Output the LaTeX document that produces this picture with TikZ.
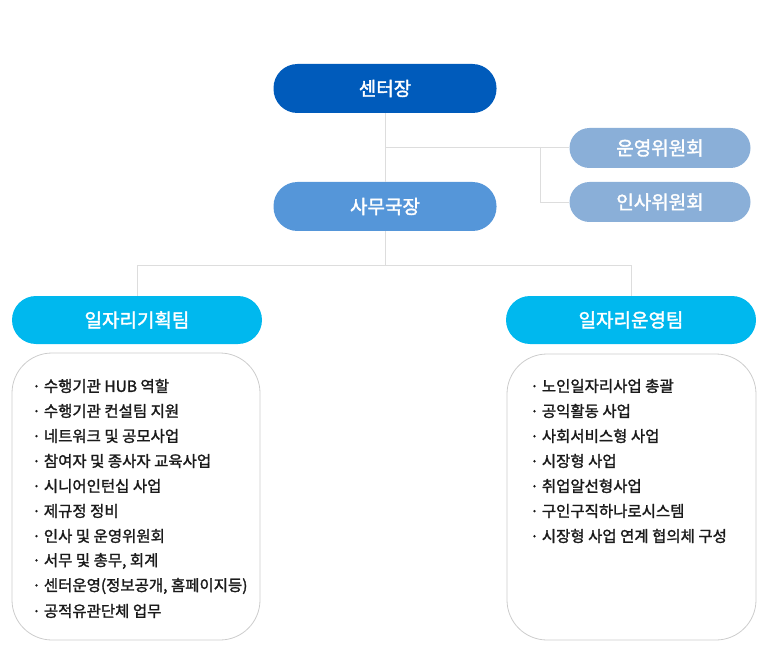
\documentclass[tikz,border=0pt]{standalone}
\usepackage{fontspec}
\setmainfont{Noto Sans CJK KR}
\newfontfamily\medfont{Noto Sans CJK KR}[FakeBold=1.6]
\newfontfamily\headfont{Noto Sans CJK KR}[FakeBold=1.8]
\usetikzlibrary{positioning}
\definecolor{chiefblue}{HTML}{005BBB}
\definecolor{officeblue}{HTML}{5596D9}
\definecolor{comblue}{HTML}{8AAFD8}
\definecolor{teamblue}{HTML}{00B8EE}
\definecolor{linegray}{HTML}{DDDDDD}
\definecolor{boxgray}{HTML}{CCCCCC}
\definecolor{itemtext}{HTML}{1A1A1A}

\begin{document}
\begin{tikzpicture}[x=1pt,y=-1pt,
 pill/.style={rounded corners=24pt,minimum width=223pt,minimum height=49pt,inner sep=0pt,text=white,font=\headfont\fontsize{19}{20}\selectfont},
 compill/.style={pill,rounded corners=20pt,minimum width=181pt,minimum height=40pt},
 teampill/.style={pill,minimum width=250pt,minimum height=48pt},
 link/.style={draw=linegray,line width=.8pt},
 listbox/.style={draw=boxgray,line width=.8pt,rounded corners=40pt},
 item/.style={anchor=west,inner sep=0pt,text=itemtext,font=\medfont\fontsize{15.5}{17}\selectfont}]
 \useasboundingbox (0,0) rectangle (772,650);
 % top of the chart
 \node[pill,fill=chiefblue] (chief) at (385,88.5) {센터장};
 \node[pill,fill=officeblue] (office) at (385,206.5) {사무국장};
 \node[compill,fill=comblue] (opcom) at (660,148) {운영위원회};
 \node[compill,fill=comblue] (hrcom) at (660,202) {인사위원회};
 \coordinate (j1) at (385,147);
 \coordinate (j2) at (540,147);
 \draw[link] (chief) -- (office);
 \draw[link] (j1) -- (j1 -| opcom.west);
 \draw[link] (j2) |- (hrcom.west);
 % teams
 \node[teampill,fill=teamblue] (planteam) at (137,320) {일자리기획팀};
 \node[teampill,fill=teamblue] (runteam) at (631,320) {일자리운영팀};
 \coordinate (j3) at (385,265);
 \draw[link] (office) -- (j3) -| (planteam);
 \draw[link] (j3) -| (runteam);
 % task lists
 \draw[listbox] (12,353) rectangle (260,640);
 \draw[listbox] (507,354) rectangle (756,640);
 \foreach \t [count=\i from 0] in {수행기관 HUB 역할,수행기관 컨설팀 지원,네트워크 및 공모사업,참여자 및 종사자 교육사업,시니어인턴십 사업,제규정 정비,인사 및 운영위원회,{서무 및 총무, 회계},{센터운영(정보공개, 홈페이지등)},공적유관단체 업무}
  \node[item] (plan\i) at (32,386+25*\i) {·\hspace{3pt}\t};
 \foreach \t [count=\i from 0] in {노인일자리사업 총괄,공익활동 사업,사회서비스형 사업,시장형 사업,취업알선형사업,구인구직하나로시스템,시장형 사업 연계 협의체 구성}
  \node[item] (run\i) at (530,386+25*\i) {·\hspace{3pt}\t};
\end{tikzpicture}
\end{document}
